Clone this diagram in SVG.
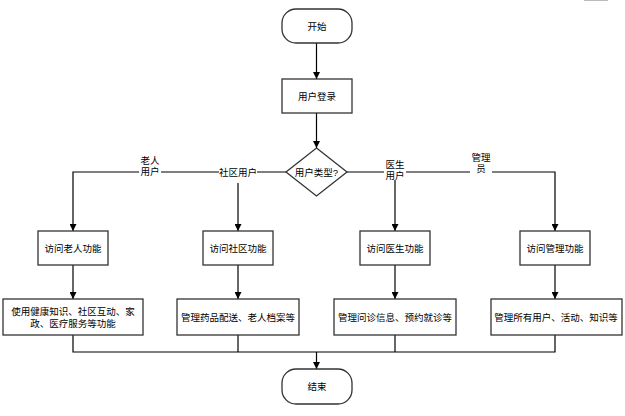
<svg xmlns="http://www.w3.org/2000/svg" width="625" height="416" viewBox="0 0 625 416">
<style>
.box{fill:#fff;stroke:#333;stroke-width:1.3}
.ln{fill:none;stroke:#000;stroke-width:1.2}
.t{font-family:"Liberation Sans","Noto Sans CJK SC",sans-serif;font-size:9.5px;fill:#000;text-anchor:middle;dominant-baseline:central}
.lbg{fill:#fff}
</style>
<defs>
<marker id="arr" viewBox="0 0 10 10" refX="10" refY="5" markerWidth="7" markerHeight="7" orient="auto" markerUnits="userSpaceOnUse">
<path d="M0,0 L10,5 L0,10 Z" fill="#000"/>
</marker>
</defs>
<rect width="625" height="416" fill="#fff"/>
<line x1="584" y1="0.5" x2="608" y2="0.5" stroke="#bbb" stroke-width="1"/>
<g id="connectors">
<line class="ln" x1="316.5" y1="43" x2="316.5" y2="79" marker-end="url(#arr)"/>
<line class="ln" x1="316.5" y1="113" x2="316.5" y2="148" marker-end="url(#arr)"/>
<polyline class="ln" points="286,172 73,172 73,231" marker-end="url(#arr)"/>
<line class="ln" x1="238" y1="172" x2="238" y2="231" marker-end="url(#arr)"/>
<polyline class="ln" points="347,172 555,172 555,231" marker-end="url(#arr)"/>
<line class="ln" x1="395" y1="172" x2="395" y2="231" marker-end="url(#arr)"/>
<line class="ln" x1="73" y1="265" x2="73" y2="299" marker-end="url(#arr)"/>
<line class="ln" x1="238" y1="265" x2="238" y2="299" marker-end="url(#arr)"/>
<line class="ln" x1="395" y1="265" x2="395" y2="299" marker-end="url(#arr)"/>
<line class="ln" x1="555" y1="265" x2="555" y2="299" marker-end="url(#arr)"/>
<polyline class="ln" points="73,335 73,352 555,352 555,335"/>
<line class="ln" x1="238" y1="335" x2="238" y2="352"/>
<line class="ln" x1="395" y1="335" x2="395" y2="352"/>
<line class="ln" x1="316.5" y1="352" x2="316.5" y2="369" marker-end="url(#arr)"/>
<rect class="lbg" x="139" y="166" width="22" height="11"/>
<text class="t" x="150" y="160">老人</text>
<text class="t" x="150" y="171">用户</text>
<rect class="lbg" x="219" y="166" width="38" height="11"/>
<rect class="lbg" x="235" y="166" width="6" height="17"/>
<text class="t" x="238" y="172">社区用户</text>
<rect class="lbg" x="384" y="158" width="22" height="22"/>
<text class="t" x="395" y="164">医生</text>
<text class="t" x="395" y="175">用户</text>
<rect class="lbg" x="470" y="151" width="22" height="22"/>
<text class="t" x="481" y="157">管理</text>
<text class="t" x="481" y="168">员</text>
</g>
<g id="start">
<rect class="box" x="282" y="9" width="70" height="34" rx="14"/>
<text class="t" x="317" y="26">开始</text>
</g>
<g id="login">
<rect class="box" x="282" y="79" width="70" height="34"/>
<text class="t" x="317" y="96">用户登录</text>
</g>
<g id="decision">
<polygon class="box" points="316.5,148 347,172 316.5,196 286,172"/>
<text class="t" x="316.5" y="172">用户类型?</text>
</g>
<g id="elderly">
<rect class="box" x="38" y="231" width="70" height="34"/>
<text class="t" x="73" y="248">访问老人功能</text>
</g>
<g id="community">
<rect class="box" x="203" y="231" width="70" height="34"/>
<text class="t" x="238" y="248">访问社区功能</text>
</g>
<g id="doctor">
<rect class="box" x="360" y="231" width="70" height="34"/>
<text class="t" x="395" y="248">访问医生功能</text>
</g>
<g id="admin">
<rect class="box" x="520" y="231" width="70" height="34"/>
<text class="t" x="555" y="248">访问管理功能</text>
</g>
<g id="elderly-detail">
<rect class="box" x="3" y="299" width="140" height="36"/>
<text class="t" x="73" y="311">使用健康知识、社区互动、家</text>
<text class="t" x="73" y="323">政、医疗服务等功能</text>
</g>
<g id="community-detail">
<rect class="box" x="177" y="299" width="122" height="36"/>
<text class="t" x="238" y="317">管理药品配送、老人档案等</text>
</g>
<g id="doctor-detail">
<rect class="box" x="334" y="299" width="122" height="36"/>
<text class="t" x="395" y="317">管理问诊信息、预约就诊等</text>
</g>
<g id="admin-detail">
<rect class="box" x="491" y="299" width="131" height="36"/>
<text class="t" x="556" y="317">管理所有用户、活动、知识等</text>
</g>
<g id="end">
<rect class="box" x="282" y="369" width="70" height="35" rx="14"/>
<text class="t" x="317" y="386">结束</text>
</g>
</svg>
